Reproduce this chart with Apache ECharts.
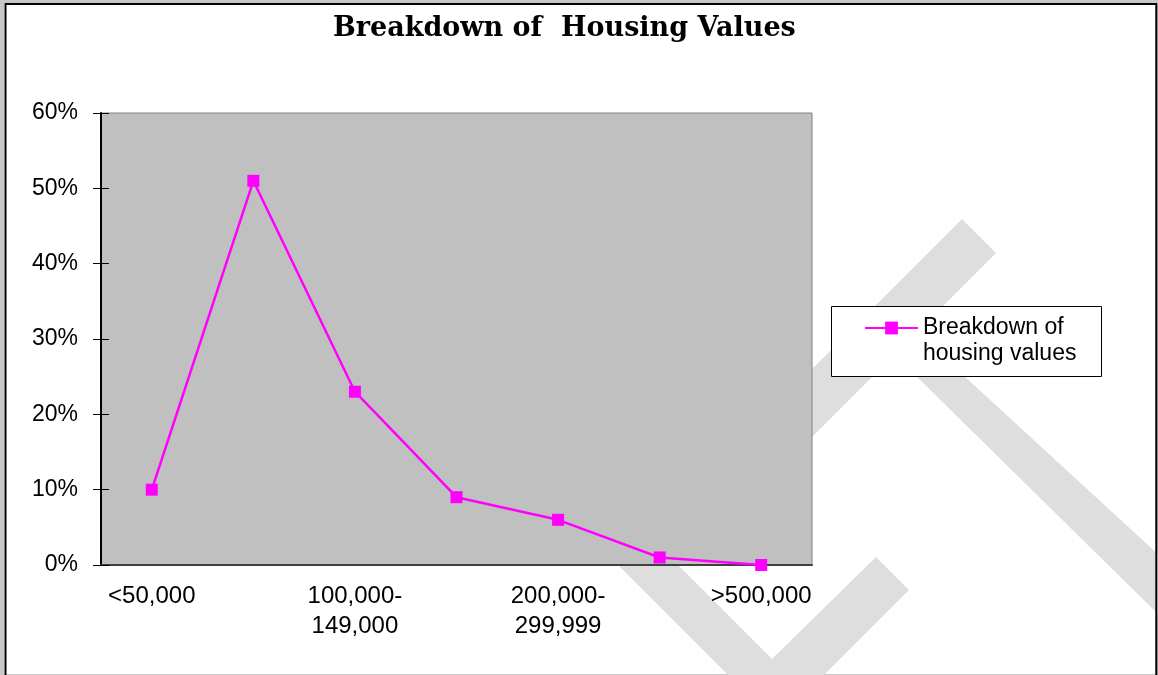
<!DOCTYPE html>
<html>
<head>
<meta charset="utf-8">
<title>Breakdown of Housing Values</title>
<script src="https://cdn.jsdelivr.net/npm/echarts@6/dist/echarts.min.js"></script>
<style>
html, body { margin: 0; padding: 0; background: #fff; }
#chart { width: 1158px; height: 675px; }
</style>
</head>
<body>
<div id="chart"></div>
<script>
// values
const categories = ['<50,000', '50,000-\n99,999', '100,000-\n149,000', '150,000-\n199,999',
    '200,000-\n299,999', '300,000-\n499,999', '>500,000'];
const shares = [10, 51, 23, 9, 6, 1, 0];
const seriesName = 'Breakdown of\nhousing values';
const titleText = 'Breakdown of  Housing Values';
const yMin = 0, yMax = 60, yStep = 10;

const labelFont = 'Liberation Sans, Arial, sans-serif';
const pink = '#ff00ff';
const wmColor = '#dedede';

let chartDom = document.getElementById('chart');
let myChart = echarts.init(chartDom, null, { renderer: 'canvas' });

let option = {
    animation: false,
    backgroundColor: '#c8c8c8',
    title: {
        text: titleText,
        left: 333,
        top: 15,
        padding: 0,
        textStyle: {
            fontFamily: 'DejaVu Serif',
            fontWeight: 'bold',
            fontSize: 27,
            color: '#000'
        }
    },
    // page frame, legend box and the faint watermark strokes behind everything
    graphic: [
        { type: 'rect', z: -30, silent: true,
          shape: { x: 4, y: 3, width: 1153, height: 671 },
          style: { fill: '#fff' } },
        { type: 'polyline', z: -5, silent: true,
          shape: { points: [[5.5, 680], [5.5, 4], [1156.3, 4], [1156.3, 680]] },
          style: { stroke: '#000', lineWidth: 2, fill: null } },
        { type: 'polygon', z: -20, silent: true,
          shape: { points: [[962, 219], [996, 253], [780, 469], [780, 401]] },
          style: { fill: wmColor } },
        { type: 'polygon', z: -20, silent: true,
          shape: { points: [[869, 330], [914, 330], [963, 375], [1160, 556], [1160, 616], [915, 375]] },
          style: { fill: wmColor } },
        { type: 'polygon', z: -20, silent: true,
          shape: { points: [[553, 500], [613, 500], [772, 659], [876, 557], [909, 590], [822, 677], [730, 677]] },
          style: { fill: wmColor } },
        { type: 'rect', z: 1, silent: true,
          shape: { x: 831.5, y: 306.5, width: 270, height: 70 },
          style: { fill: '#fff', stroke: '#000', lineWidth: 1 } }
    ],
    legend: {
        left: 864,
        top: 289,
        padding: 0,
        z: 5,
        itemWidth: 53,
        itemHeight: 16,
        itemGap: 0,
        data: [seriesName],
        // empty first line puts the first text line level with the icon
        formatter: function (name) {
            return '\n' + name;
        },
        textStyle: {
            fontFamily: labelFont,
            fontSize: 23,
            lineHeight: 26,
            color: '#000'
        }
    },
    grid: {
        left: 101,
        right: 346,
        top: 113,
        bottom: 110,
        show: true,
        backgroundColor: '#c0c0c0',
        borderColor: '#808080',
        borderWidth: 1
    },
    xAxis: [
        {
            type: 'category',
            data: categories,
            boundaryGap: true,
            axisLine: { lineStyle: { color: '#404040', width: 2 } },
            axisTick: { interval: 0, length: 8, lineStyle: { color: '#404040', width: 1 } },
            axisLabel: {
                interval: 1,
                margin: 16,
                fontFamily: labelFont,
                fontSize: 24,
                lineHeight: 30,
                color: '#000'
            }
        },
        {
            type: 'category',
            data: categories,
            position: 'bottom',
            boundaryGap: true,
            axisLine: { show: false },
            axisTick: { interval: 0, inside: true, length: 8, lineStyle: { color: '#404040', width: 1 } },
            axisLabel: { show: false }
        }
    ],
    yAxis: [
        {
            type: 'value',
            min: yMin,
            max: yMax,
            interval: yStep,
            axisLine: { show: true, lineStyle: { color: '#000', width: 2 } },
            axisTick: { show: true, length: 8, lineStyle: { color: '#000', width: 1 } },
            splitLine: { show: false },
            axisLabel: {
                formatter: '{value}%',
                margin: 23,
                fontFamily: labelFont,
                fontSize: 23,
                color: '#000'
            }
        },
        {
            type: 'value',
            position: 'left',
            min: yMin,
            max: yMax,
            interval: yStep,
            axisLine: { show: false },
            axisTick: { show: true, inside: true, length: 8, lineStyle: { color: '#000', width: 1 } },
            splitLine: { show: false },
            axisLabel: { show: false }
        }
    ],
    series: [
        {
            name: seriesName,
            type: 'line',
            data: shares,
            symbol: 'rect',
            symbolSize: 12,
            color: pink,
            lineStyle: { color: pink, width: 2.5 },
            itemStyle: { color: pink }
        }
    ]
};

option && myChart.setOption(option);
</script>
</body>
</html>
